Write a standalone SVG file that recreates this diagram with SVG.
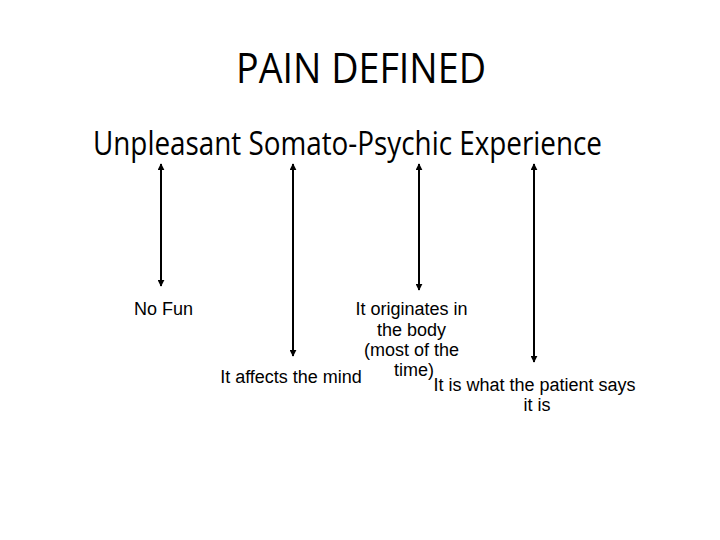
<svg xmlns="http://www.w3.org/2000/svg" width="720" height="540" viewBox="0 0 720 540">
<style>
.title{font-family:"Open Sans","Noto Sans",sans-serif;font-size:42px;fill:#000;}
.sub{font-family:"Open Sans","Noto Sans",sans-serif;font-size:33px;fill:#000;}
.lbl{font-family:"Liberation Sans",Arial,sans-serif;font-size:18px;fill:#000;}
.arr{stroke:#000;stroke-width:2;fill:none;marker-start:url(#ah);marker-end:url(#ah);}
</style>
<defs>
<marker id="ah" viewBox="0 0 10 10" refX="9" refY="5" markerWidth="3.5" markerHeight="3.5" orient="auto-start-reverse" markerUnits="strokeWidth">
<path d="M0,0 L10,5 L0,10 z" fill="#000"/>
</marker>
</defs>
<rect width="720" height="540" fill="#fff"/>
<g id="title"><text class="title" x="361" y="83" text-anchor="middle" textLength="250" lengthAdjust="spacingAndGlyphs">PAIN DEFINED</text></g>
<g id="subtitle"><text class="sub" x="347.5" y="155" text-anchor="middle" textLength="509" lengthAdjust="spacingAndGlyphs">Unpleasant Somato-Psychic Experience</text></g>
<g id="connectors">
<line class="arr" x1="161" y1="164" x2="161" y2="286"/>
<line class="arr" x1="293" y1="164" x2="293" y2="356"/>
<line class="arr" x1="419" y1="164" x2="419" y2="290"/>
<line class="arr" x1="534" y1="164" x2="534" y2="362"/>
</g>
<g id="no-fun"><text class="lbl" x="163.5" y="315" text-anchor="middle">No Fun</text></g>
<g id="affects-mind"><text class="lbl" x="291" y="383" text-anchor="middle">It affects the mind</text></g>
<g id="originates"><text class="lbl" text-anchor="middle">
<tspan x="414" y="315">It originates in</tspan>
<tspan x="414" y="335.5">the body</tspan>
<tspan x="414" y="356">(most of the</tspan>
<tspan x="414" y="376">time)</tspan>
</text></g>
<g id="patient-says"><text class="lbl" text-anchor="middle">
<tspan x="537" y="391">It is what the patient says</tspan>
<tspan x="537" y="411">it is</tspan>
</text></g>
</svg>
